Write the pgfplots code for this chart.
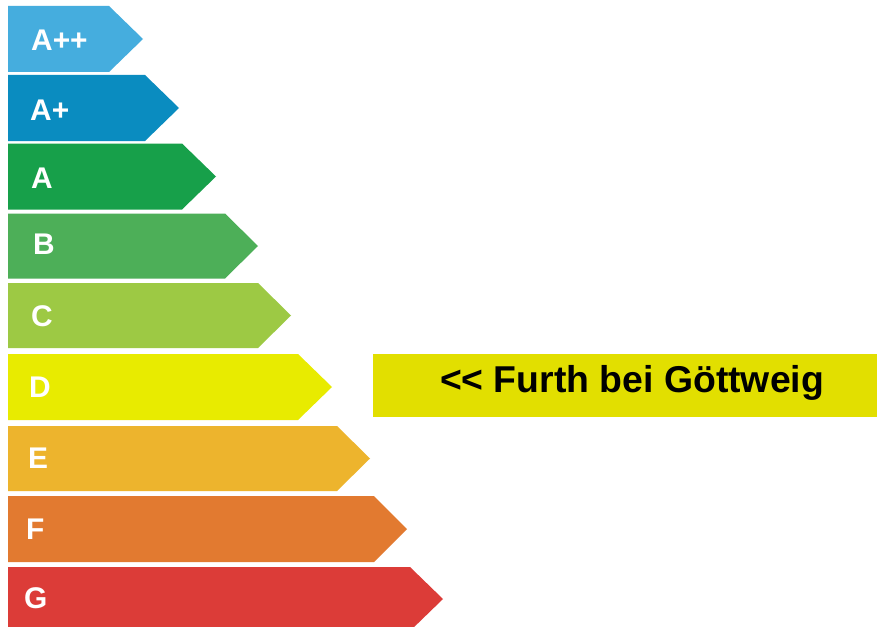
\documentclass[border=0pt]{standalone}
\usepackage{pgfplots}
\pgfplotsset{compat=1.18}
\usepackage{fontspec}
\setmainfont{Liberation Sans}
\definecolor{cApp}{RGB}{69,173,222}
\definecolor{cAp}{RGB}{10,140,192}
\definecolor{cA}{RGB}{23,160,74}
\definecolor{cB}{RGB}{77,175,88}
\definecolor{cC}{RGB}{157,201,68}
\definecolor{cD}{RGB}{232,235,0}
\definecolor{cE}{RGB}{237,180,45}
\definecolor{cF}{RGB}{226,122,48}
\definecolor{cG}{RGB}{220,60,56}
\definecolor{cBox}{RGB}{226,223,0}
\begin{document}
\begin{tikzpicture}
\begin{axis}[
  width=877bp, height=627bp, scale only axis,
  xmin=0, xmax=877, ymin=0, ymax=627, y dir=reverse,
  axis lines=none, clip=true,
]
\addplot[draw=none, fill=white] coordinates {(0,0) (877,0) (877,627) (0,627)} -- cycle;
% arrows: left, top, bodyend, tip, bottom
\addplot[draw=none, fill=cApp] coordinates {(8,6) (109,6) (143,39) (109,72) (8,72)} -- cycle;
\addplot[draw=none, fill=cAp] coordinates {(8,75) (145,75) (179,108) (145,141) (8,141)} -- cycle;
\addplot[draw=none, fill=cA] coordinates {(8,143.5) (182,143.5) (216,176.5) (182,209.5) (8,209.5)} -- cycle;
\addplot[draw=none, fill=cB] coordinates {(8,213.5) (225,213.5) (258,246) (225,278.5) (8,278.5)} -- cycle;
\addplot[draw=none, fill=cC] coordinates {(8,283) (258,283) (291,315.5) (258,348) (8,348)} -- cycle;
\addplot[draw=none, fill=cD] coordinates {(8,354) (298,354) (332,387) (298,420) (8,420)} -- cycle;
\addplot[draw=none, fill=cE] coordinates {(8,426) (337,426) (370,458.5) (337,491) (8,491)} -- cycle;
\addplot[draw=none, fill=cF] coordinates {(8,496) (374,496) (407,529) (374,562) (8,562)} -- cycle;
\addplot[draw=none, fill=cG] coordinates {(8,567) (410,567) (443,599) (410,631) (8,631)} -- cycle;
% box
\addplot[draw=none, fill=cBox] coordinates {(373,354) (877,354) (877,417) (373,417)} -- cycle;
\begin{scope}[every node/.style={anchor=base west, text=white, font=\fontsize{30}{34}\selectfont\bfseries, inner sep=0pt}]
\node at (axis cs:31,50.5) {A++};
\node at (axis cs:30,120) {A+};
\node at (axis cs:31,188.5) {A};
\node at (axis cs:33,254.5) {B};
\node at (axis cs:31,326) {C};
\node at (axis cs:29,397.5) {D};
\node at (axis cs:28,468.5) {E};
\node at (axis cs:26,539) {F};
\node at (axis cs:24,608.5) {G};
\end{scope}
\node[anchor=base, text=black, font=\fontsize{37.5}{40}\selectfont\bfseries, inner sep=0pt] at (axis cs:632,392) {<{}< Furth bei Göttweig};
\end{axis}
\end{tikzpicture}
\end{document}
